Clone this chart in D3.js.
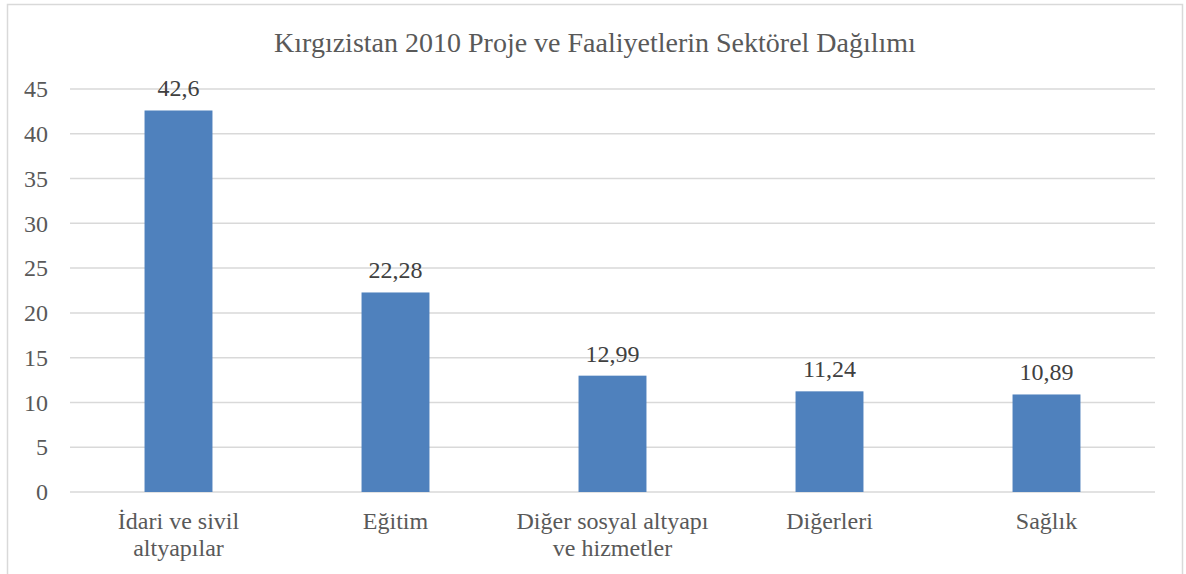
<!DOCTYPE html>
<html>
<head>
<meta charset="utf-8">
<script src="https://cdn.jsdelivr.net/npm/d3@7"></script>
<style>
  body { margin: 0; background: #fff; }
  svg text { font-family: "Liberation Serif", "Times New Roman", serif; }
</style>
</head>
<body>
<svg id="chart" width="1186" height="574"></svg>
<script>
// data
const categories = [["İdari ve sivil", "altyapılar"], ["Eğitim"], ["Diğer sosyal altyapı", "ve hizmetler"], ["Diğerleri"], ["Sağlık"]];
const values = [42.6, 22.28, 12.99, 11.24, 10.89];
const valueLabels = ["42,6", "22,28", "12,99", "11,24", "10,89"];
const yTicks = [0, 5, 10, 15, 20, 25, 30, 35, 40, 45];
const title = "Kırgızistan 2010 Proje ve Faaliyetlerin Sektörel Dağılımı";

const svg = d3.select("#chart");
const plotL = 70, plotR = 1155, plotT = 89, plotB = 492;

// outer chart frame
svg.append("rect")
  .attr("x", 7.5).attr("y", 4.5)
  .attr("width", 1175).attr("height", 600)
  .attr("fill", "#fff").attr("stroke", "#d9d9d9").attr("stroke-width", 1.5);

svg.append("text")
  .attr("x", 595).attr("y", 52)
  .attr("text-anchor", "middle")
  .attr("font-size", 28)
  .attr("fill", "#595959")
  .text(title);

const x = d3.scaleBand()
  .domain(d3.range(categories.length))
  .range([plotL, plotR])
  .paddingInner(0.687)
  .paddingOuter(0.3435);

const y = d3.scaleLinear().domain([0, 45]).range([plotB, plotT]);

// gridlines
svg.append("g")
  .selectAll("line")
  .data(yTicks)
  .join("line")
  .attr("x1", plotL).attr("x2", plotR)
  .attr("y1", d => y(d)).attr("y2", d => y(d))
  .attr("stroke", "#d9d9d9").attr("stroke-width", 1.5);

// y axis labels
const yAxis = svg.append("g")
  .attr("transform", `translate(${plotL},0)`)
  .call(d3.axisLeft(y).tickValues(yTicks).tickSize(0).tickPadding(22));
yAxis.select(".domain").remove();
yAxis.attr("font-family", null).attr("font-size", null);
yAxis.selectAll("text")
  .attr("font-size", 24)
  .attr("fill", "#595959");

// bars
svg.append("g")
  .selectAll("rect")
  .data(values)
  .join("rect")
  .attr("x", (d, i) => x(i))
  .attr("width", x.bandwidth())
  .attr("y", d => y(d))
  .attr("height", d => y(0) - y(d))
  .attr("fill", "#4f81bd");

// value labels
svg.append("g")
  .selectAll("text")
  .data(values)
  .join("text")
  .attr("x", (d, i) => x(i) + x.bandwidth() / 2)
  .attr("y", d => y(d) - 14)
  .attr("text-anchor", "middle")
  .attr("font-size", 24)
  .attr("fill", "#404040")
  .text((d, i) => valueLabels[i]);

// category labels
const cat = svg.append("g")
  .selectAll("text")
  .data(categories)
  .join("text")
  .attr("x", (d, i) => x(i) + x.bandwidth() / 2)
  .attr("y", 529)
  .attr("text-anchor", "middle")
  .attr("font-size", 24)
  .attr("fill", "#595959");
cat.selectAll("tspan")
  .data(d => d)
  .join("tspan")
  .attr("x", function() { return d3.select(this.parentNode).attr("x"); })
  .attr("dy", (d, i) => i === 0 ? 0 : 27)
  .text(d => d);
</script>
</body>
</html>
